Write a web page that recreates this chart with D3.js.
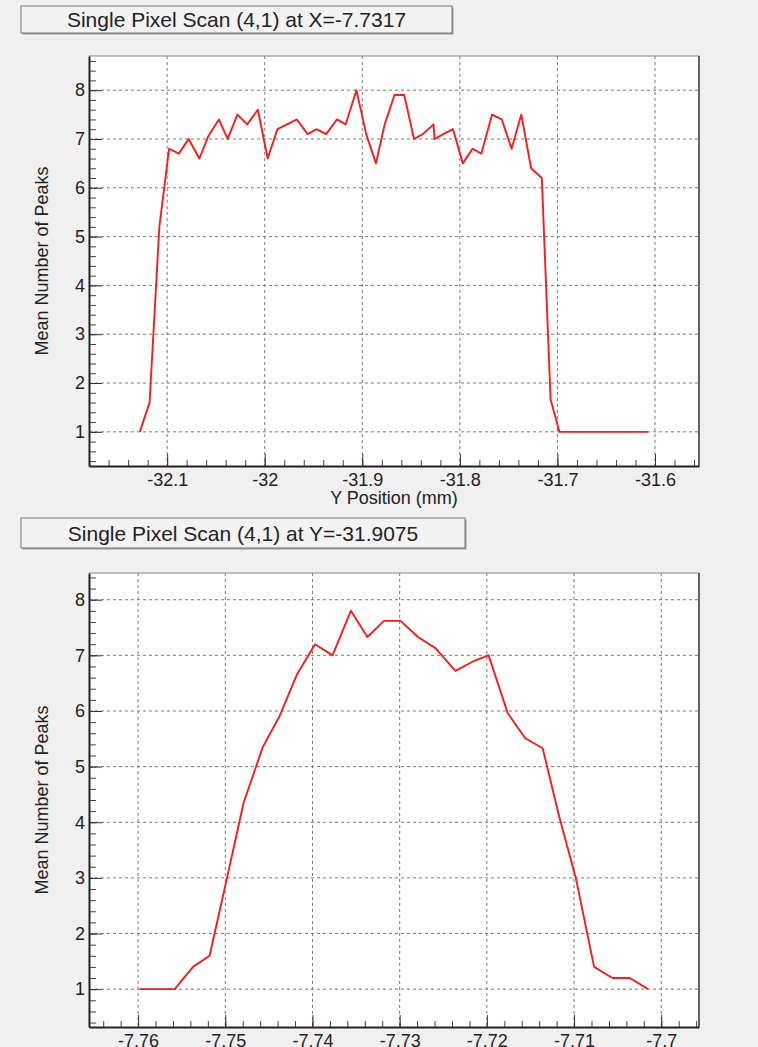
<!DOCTYPE html>
<html>
<head>
<meta charset="utf-8">
<script src="https://cdn.jsdelivr.net/npm/d3@7"></script>
<style>
  html, body { margin: 0; padding: 0; background: #f0f0f0; }
  svg { display: block; font-family: "Liberation Sans", Arial, Helvetica, sans-serif; }
  .grid line { stroke: #7a7a7a; stroke-width: 1; stroke-dasharray: 3,3; }
  .axis path.domain { stroke: #222; stroke-width: 2; }
  .axis .tick line { stroke: #333; stroke-width: 1; }
  .axis text { fill: #222; font-size: 18px; }
  .minor path.domain { display: none; }
  .minor .tick line { stroke: #444; }
</style>
</head>
<body>
<svg id="chart" width="758" height="1047"></svg>
<script>
/* Single pixel scans, mean number of peaks vs position */

// top panel: scan along Y at X=-7.7317
const topTitle = "Single Pixel Scan (4,1) at X=-7.7317";
const topPos = [
  -32.128, -32.118, -32.108, -32.098, -32.088, -32.078, -32.067, -32.058, -32.047, -32.038,
  -32.028, -32.018, -32.007, -31.997, -31.987, -31.977, -31.967, -31.956, -31.947, -31.937,
  -31.926, -31.917, -31.906, -31.896, -31.886, -31.877, -31.867, -31.857, -31.847, -31.838,
  -31.827, -31.826, -31.817, -31.807, -31.797, -31.787, -31.778, -31.767, -31.757, -31.747,
  -31.737, -31.727, -31.716, -31.707, -31.698, -31.688, -31.678, -31.668, -31.658, -31.648,
  -31.638, -31.628, -31.617, -31.607,
];
const topPeaks = [
  1.0, 1.6, 5.2, 6.8, 6.7, 7.0, 6.6, 7.05, 7.4, 7.0,
  7.5, 7.3, 7.6, 6.6, 7.2, 7.3, 7.4, 7.1, 7.2, 7.1,
  7.4, 7.3, 8.0, 7.1, 6.5, 7.3, 7.9, 7.9, 7.0, 7.1,
  7.3, 7.0, 7.1, 7.2, 6.5, 6.8, 6.7, 7.5, 7.4, 6.8,
  7.5, 6.4, 6.2, 1.66, 1.0, 1.0, 1.0, 1.0, 1.0, 1.0,
  1.0, 1.0, 1.0, 1.0,
];

// bottom panel: scan along X at Y=-31.9075
const botTitle = "Single Pixel Scan (4,1) at Y=-31.9075";
const botPos = [
  -7.7598, -7.7578, -7.7558, -7.7537, -7.7518, -7.7498, -7.7479, -7.7457, -7.7438, -7.7418,
  -7.7397, -7.7377, -7.7356, -7.7337, -7.7318, -7.7299, -7.7279, -7.7259, -7.7236, -7.7216,
  -7.7198, -7.7176, -7.7156, -7.7136, -7.7117, -7.7098, -7.7077, -7.7056, -7.7036, -7.7015,
];
const botPeaks = [
  1.0, 1.0, 1.0, 1.4, 1.6, 3.0, 4.35, 5.35, 5.9, 6.65,
  7.2, 7.0, 7.8, 7.33, 7.62, 7.62, 7.33, 7.13, 6.72, 6.89,
  7.0, 5.96, 5.51, 5.33, 4.1, 3.0, 1.4, 1.2, 1.2, 1.0,
];

const yTitle = "Mean Number of Peaks";
const topXTitle = "Y Position (mm)";

const svg = d3.select("#chart");

function fmt(d) {
  return String(+d.toFixed(3));
}

// ROOT-like range: data extent padded by 10% each side
function padExtent(vals) {
  const [lo, hi] = d3.extent(vals);
  const pad = (hi - lo) * 0.1;
  return [lo - pad, hi + pad];
}

function drawTitleBox(x, y, w, h, text) {
  svg.append("rect")
    .attr("x", x + 1.5).attr("y", y + 1.5)
    .attr("width", w).attr("height", h)
    .attr("fill", "#9a9a9a");
  svg.append("rect")
    .attr("x", x).attr("y", y)
    .attr("width", w).attr("height", h)
    .attr("fill", "#f3f3f3")
    .attr("stroke", "#777").attr("stroke-width", 1);
  svg.append("text")
    .attr("x", x + w / 2).attr("y", y + h / 2 + 7.5)
    .attr("text-anchor", "middle")
    .attr("font-size", 21).attr("fill", "#222")
    .text(text);
}

function drawPanel(opts) {
  const { left, right, top, bottom, xs, ys, xMajor, xMinor, xTitle } = opts;

  const x = d3.scaleLinear().domain(padExtent(xs)).range([left, right]);
  const y = d3.scaleLinear().domain(padExtent(ys)).range([bottom, top]);

  const g = svg.append("g");

  // plot area
  g.append("rect")
    .attr("x", left).attr("y", top)
    .attr("width", right - left).attr("height", bottom - top)
    .attr("fill", "#fff");

  const xt = x.ticks(xMajor);
  const yt = y.ticks(8);

  // grid
  const grid = g.append("g").attr("class", "grid");
  grid.selectAll("line.gx")
    .data(xt)
    .join("line")
    .attr("x1", (d) => x(d)).attr("x2", (d) => x(d))
    .attr("y1", top).attr("y2", bottom);
  grid.selectAll("line.gy")
    .data(yt)
    .join("line")
    .attr("x1", left).attr("x2", right)
    .attr("y1", (d) => y(d)).attr("y2", (d) => y(d));

  // frame top / right
  g.append("path")
    .attr("d", `M${left},${top}H${right}V${bottom}`)
    .attr("fill", "none")
    .attr("stroke", "#888").attr("stroke-width", 1);
  g.append("line")
    .attr("x1", right).attr("x2", right)
    .attr("y1", top).attr("y2", bottom)
    .attr("stroke", "#444").attr("stroke-width", 1.5);

  // minor ticks
  g.append("g")
    .attr("class", "axis minor")
    .attr("transform", `translate(0,${bottom})`)
    .call(d3.axisBottom(x).tickValues(x.ticks(xMinor)).tickSize(-6).tickFormat(""));
  g.append("g")
    .attr("class", "axis minor")
    .attr("transform", `translate(${left},0)`)
    .call(d3.axisLeft(y).tickValues(y.ticks(40)).tickSize(-7).tickFormat(""));

  // major axes
  g.append("g")
    .attr("class", "axis")
    .attr("transform", `translate(0,${bottom})`)
    .call(d3.axisBottom(x).tickValues(xt).tickSize(-12).tickSizeOuter(0)
      .tickPadding(7).tickFormat(fmt));
  g.append("g")
    .attr("class", "axis")
    .attr("transform", `translate(${left},0)`)
    .call(d3.axisLeft(y).tickValues(yt).tickSize(-13).tickSizeOuter(0)
      .tickPadding(4).tickFormat(fmt));

  // data line
  const line = d3.line()
    .x((d, i) => x(xs[i]))
    .y((d) => y(d));
  g.append("path")
    .datum(ys)
    .attr("d", line)
    .attr("fill", "none")
    .attr("stroke", "#ff1a1a")
    .attr("stroke-width", 1.9)
    .attr("stroke-linejoin", "round");

  // axis titles
  g.append("text")
    .attr("transform", `translate(48,${(top + bottom) / 2}) rotate(-90)`)
    .attr("text-anchor", "middle")
    .attr("font-size", 18).attr("fill", "#222")
    .text(yTitle);

  if (xTitle) {
    g.append("text")
      .attr("x", (left + right) / 2).attr("y", bottom + 38)
      .attr("text-anchor", "middle")
      .attr("font-size", 18).attr("fill", "#222")
      .text(xTitle);
  }
}

drawTitleBox(21, 6, 431, 27, topTitle);
drawPanel({
  left: 89, right: 699, top: 56, bottom: 466,
  xs: topPos, ys: topPeaks, xMajor: 6, xMinor: 30, xTitle: topXTitle,
});

drawTitleBox(21, 518, 444, 30, botTitle);
drawPanel({
  left: 89, right: 699, top: 573, bottom: 1027,
  xs: botPos, ys: botPeaks, xMajor: 7, xMinor: 35, xTitle: null,
});
</script>
</body>
</html>
